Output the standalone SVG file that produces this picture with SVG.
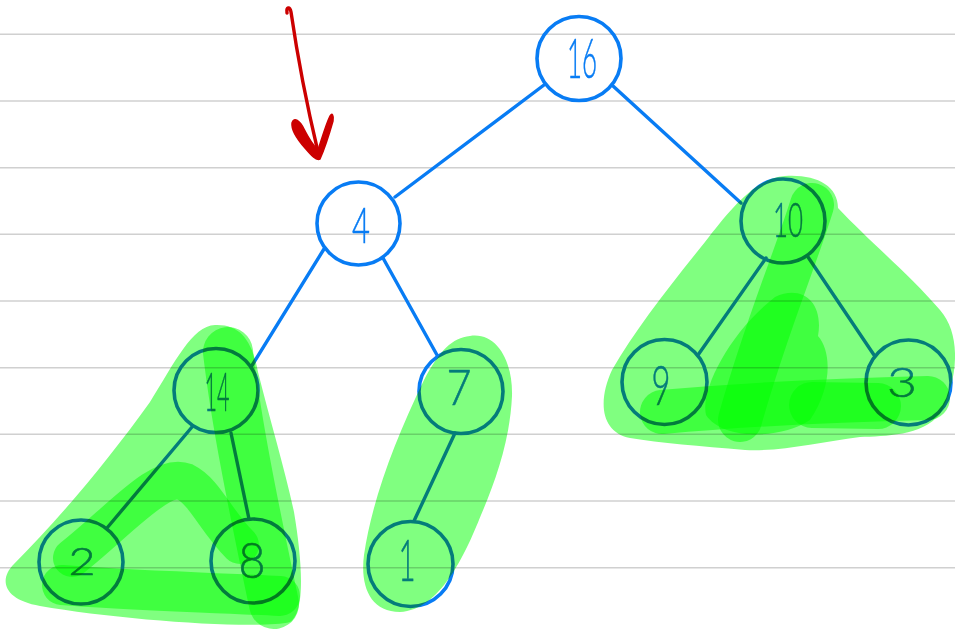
<svg xmlns="http://www.w3.org/2000/svg" width="955" height="631" viewBox="0 0 955 631">
  <style>
    .rule { stroke: #d0d0d0; stroke-width: 1.6; }
    .node circle { fill: none; stroke: #087cf4; stroke-width: 3.6; }
    .node text { fill: #087cf4; stroke: #087cf4; stroke-width: 0.6; font-family: "Lato", "Liberation Sans", sans-serif; font-weight: 300; text-anchor: middle; }
    .edge { stroke: #087cf4; stroke-width: 3.4; stroke-linecap: round; fill: none; }
    .mark { fill: none; stroke: #cc0000; stroke-linecap: round; stroke-linejoin: round; }
    .mark-head { fill: #cc0000; stroke: #cc0000; stroke-width: 1.5; stroke-linejoin: round; }
    .hl { fill: #80ff80; stroke: none; mix-blend-mode: multiply; }
    .hls { fill: none; stroke: #80ff80; stroke-linecap: round; stroke-linejoin: round; mix-blend-mode: multiply; }
  </style>
  <rect width="955" height="631" fill="#ffffff"/>

  <!-- ruled paper -->
  <g id="paper">
    <line class="rule" x1="0" y1="34.3" x2="955" y2="34.3"/>
    <line class="rule" x1="0" y1="101" x2="955" y2="101"/>
    <line class="rule" x1="0" y1="167.7" x2="955" y2="167.7"/>
    <line class="rule" x1="0" y1="234.3" x2="955" y2="234.3"/>
    <line class="rule" x1="0" y1="301" x2="955" y2="301"/>
    <line class="rule" x1="0" y1="367.7" x2="955" y2="367.7"/>
    <line class="rule" x1="0" y1="434.3" x2="955" y2="434.3"/>
    <line class="rule" x1="0" y1="501" x2="955" y2="501"/>
    <line class="rule" x1="0" y1="567.7" x2="955" y2="567.7"/>
  </g>

  <!-- tree edges -->
  <g id="connectors">
    <line class="edge" x1="544" y1="85" x2="395" y2="197"/>
    <line class="edge" x1="613" y1="86" x2="741" y2="203"/>
    <line class="edge" x1="324" y1="249" x2="251" y2="367"/>
    <line class="edge" x1="383" y1="258" x2="437" y2="355"/>
    <line class="edge" x1="192" y1="427" x2="107" y2="528"/>
    <line class="edge" x1="231" y1="433" x2="249" y2="519"/>
    <line class="edge" x1="455" y1="433" x2="414" y2="521"/>
    <line class="edge" x1="766" y1="258" x2="698" y2="355"/>
    <line class="edge" x1="808" y1="257" x2="874" y2="355"/>
  </g>

  <!-- heap nodes -->
  <g id="n16" class="node"><circle cx="579" cy="58.5" r="42"/><text x="582" y="78" font-size="56" textLength="30" lengthAdjust="spacingAndGlyphs">16</text></g>
  <g id="n4" class="node"><circle cx="358.5" cy="223.5" r="41.5"/><text x="361" y="243" font-size="50" textLength="18" lengthAdjust="spacingAndGlyphs">4</text></g>
  <g id="n10" class="node"><circle cx="783" cy="221" r="42"/><text x="788" y="237" font-size="48" textLength="30" lengthAdjust="spacingAndGlyphs">10</text></g>
  <g id="n14" class="node"><circle cx="216" cy="390.5" r="42"/><text x="217" y="411" font-size="54" textLength="25" lengthAdjust="spacingAndGlyphs">14</text></g>
  <g id="n7" class="node"><circle cx="461" cy="391.5" r="42"/><text x="459" y="405" font-size="49" textLength="25" lengthAdjust="spacingAndGlyphs">7</text></g>
  <g id="n9" class="node"><circle cx="664.5" cy="382" r="42.5"/><text x="661" y="405" font-size="55" textLength="19" lengthAdjust="spacingAndGlyphs">9</text></g>
  <g id="n3" class="node"><circle cx="908.5" cy="382.5" r="42.5"/><text x="902" y="397" font-size="42" textLength="30" lengthAdjust="spacingAndGlyphs">3</text></g>
  <g id="n2" class="node"><circle cx="81" cy="562" r="42"/><text x="82" y="575" font-size="38" textLength="27" lengthAdjust="spacingAndGlyphs">2</text></g>
  <g id="n8" class="node"><circle cx="253" cy="561" r="42"/><text x="252" y="578" font-size="50" textLength="27" lengthAdjust="spacingAndGlyphs">8</text></g>
  <g id="n1" class="node"><circle cx="410.5" cy="564" r="42.5"/><text x="407" y="581" font-size="57" textLength="17" lengthAdjust="spacingAndGlyphs">1</text></g>

  <!-- red pointer arrow -->
  <g id="pointer">
    <path class="mark" stroke-width="3.4" d="M 287 13 C 286 7, 290 6, 291 12 C 298 60, 308 110, 318 152"/>
    <path class="mark-head" d="M 292 123 C 294 116, 300 121, 304 129 C 309 139, 314 146, 318 150 C 322 138, 326 124, 330 116 C 332 112, 334 116, 333 121 C 329 135, 324 150, 320 159 C 316 161, 311 155, 305 148 C 298 140, 291 131, 292 123 Z"/>
  </g>

  <!-- green marker highlights over the subtrees -->
  <g id="highlight-left">
    <path class="hl" d="M 215 325 C 240 324, 252 340, 258 372 C 270 420, 285 470, 294 512 C 302 560, 306 612, 290 622 C 258 630, 120 620, 40 606 C 4 600, -2 580, 14 564 C 60 518, 110 458, 150 402 C 175 362, 192 326, 215 325 Z"/>
    <path class="hls" stroke-width="50" d="M 228 352 C 236 420, 252 500, 274 604"/>
    <path class="hls" stroke-width="40" d="M 62 585 C 120 590, 200 592, 280 596"/>
    <path class="hls" stroke-width="38" d="M 72 558 C 120 520, 160 472, 185 482 C 205 492, 215 520, 240 545"/>
  </g>
  <g id="highlight-mid">
    <path class="hl" d="M 470 336 C 496 332, 513 360, 512 396 C 510 440, 496 480, 481 515 C 465 555, 440 610, 400 612 C 370 612, 360 586, 364 555 C 372 500, 395 440, 424 380 C 440 350, 452 338, 470 336 Z"/>
  </g>
  <g id="highlight-right">
    <path class="hl" d="M 785 176 C 815 174, 838 185, 838 208 C 868 240, 910 275, 940 310 C 962 335, 958 380, 940 414 C 922 436, 885 436, 860 437 C 820 442, 780 452, 745 450 C 700 446, 660 443, 630 438 C 600 432, 598 400, 612 370 C 635 330, 668 288, 705 242 C 730 210, 755 178, 785 176 Z"/>
    <path class="hls" stroke-width="44" d="M 812 205 C 795 260, 765 330, 740 420"/>
    <path class="hl" d="M 775 297 C 802 284, 824 302, 818 336 C 832 352, 832 388, 810 420 C 780 440, 722 440, 706 415 C 700 390, 730 332, 775 297 Z"/>
    <path class="hls" stroke-width="44" d="M 662 412 C 740 405, 840 400, 928 398"/>
    <path class="hls" stroke-width="46" d="M 812 405 L 878 406"/>
  </g>
</svg>
